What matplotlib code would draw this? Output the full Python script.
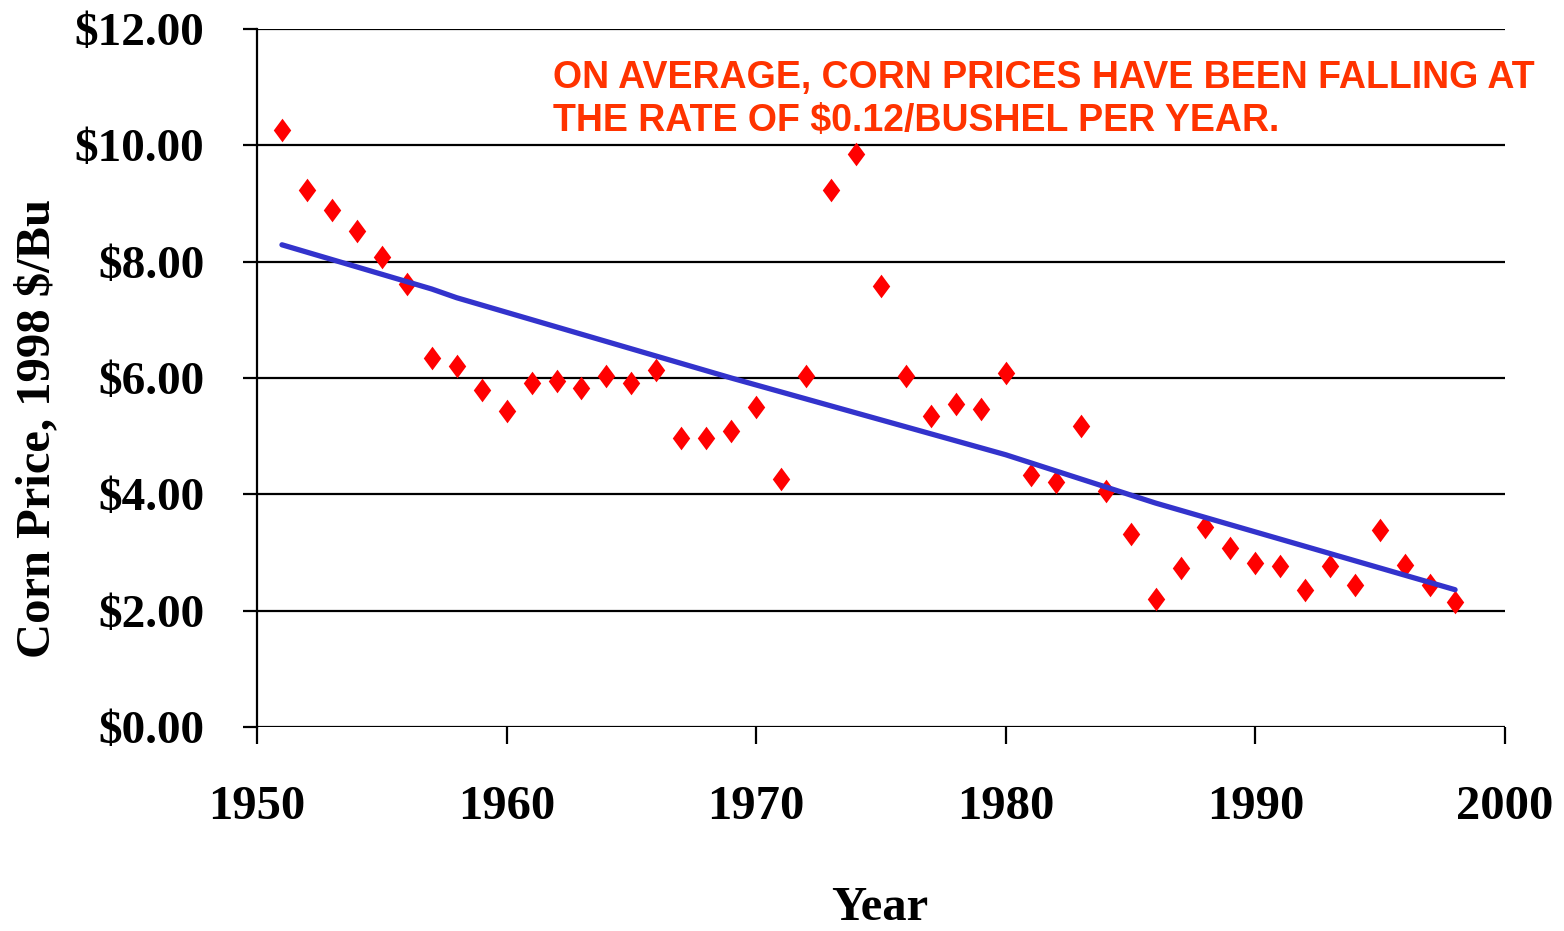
import matplotlib
matplotlib.use("Agg")
import matplotlib.pyplot as plt
from matplotlib.path import Path

years = list(range(1951, 1999))
prices = [10.26, 9.23, 8.89, 8.53, 8.08, 7.62, 6.34, 6.21, 5.79, 5.43,
          5.91, 5.95, 5.83, 6.03, 5.91, 6.14, 4.97, 4.97, 5.09, 5.50,
          4.26, 6.03, 9.23, 9.85, 7.58, 6.03, 5.35, 5.55, 5.47, 6.09,
          4.33, 4.21, 5.17, 4.06, 3.32, 2.20, 2.73, 3.44, 3.08, 2.82,
          2.77, 2.36, 2.77, 2.44, 3.39, 2.78, 2.44, 2.15]

trend_years = [1951, 1957, 1958, 1969, 1980, 1986, 1998]
trend_values = [8.29, 7.53, 7.38, 6.00, 4.68, 3.85, 2.36]

y_ticks = [0, 2, 4, 6, 8, 10, 12]
y_tick_labels = ["$0.00", "$2.00", "$4.00", "$6.00", "$8.00", "$10.00", "$12.00"]
x_ticks = [1950, 1960, 1970, 1980, 1990, 2000]
x_tick_labels = ["1950", "1960", "1970", "1980", "1990", "2000"]

annotation = "ON AVERAGE, CORN PRICES HAVE BEEN FALLING AT\nTHE RATE OF $0.12/BUSHEL PER YEAR."
y_label = "Corn Price, 1998 \\$/Bu"
x_label = "Year"

W, H = 1564, 931
fig = plt.figure(figsize=(W / 100, H / 100), dpi=100)
ax = fig.add_axes([257 / W, 1 - 727 / H, (1505 - 257) / W, (727 - 29) / H])

serif = {"family": "Liberation Serif", "weight": "bold"}

ax.set_xlim(1950, 2000)
ax.set_ylim(0, 12)

for t in y_ticks:
    ax.axhline(t, color="black", lw=1.6, zorder=1)

diamond = Path([(0, 1), (0.74, 0), (0, -1), (-0.74, 0), (0, 1)],
               [Path.MOVETO, Path.LINETO, Path.LINETO, Path.LINETO, Path.CLOSEPOLY])
ax.plot(years, prices, linestyle="none", marker=diamond, markersize=17,
        color="#FF0000", markeredgewidth=0, zorder=3)
ax.plot(trend_years, trend_values, color="#3333CC", lw=3.8,
        solid_capstyle="round", solid_joinstyle="round", zorder=4)

for s in ["top", "right", "bottom"]:
    ax.spines[s].set_visible(False)
ax.spines["left"].set_linewidth(1.6)
ax.spines["left"].set_zorder(2)

ax.set_yticks(y_ticks)
ax.set_yticklabels(y_tick_labels, fontdict=serif, fontsize=34)
ax.set_xticks(x_ticks)
ax.set_xticklabels(x_tick_labels, fontdict=serif, fontsize=35)
ax.tick_params(axis="y", direction="out", length=10, width=1.6, pad=28)
ax.tick_params(axis="x", direction="out", length=12, width=1.6, pad=30)

ax.set_ylabel(y_label, fontdict=serif, fontsize=35)
ax.yaxis.set_label_coords((37 - 257) / 1248, (727 - 428) / 698)
ax.yaxis.label.set_verticalalignment("center")
ax.set_xlabel(x_label, fontdict=serif, fontsize=35)
ax.xaxis.set_label_coords((880 - 257) / 1248, (727 - 908) / 698)
ax.xaxis.label.set_verticalalignment("center")

fig.text(553 / W, 1 - 60 / H, annotation, ha="left", va="top",
         color="#FF3300", fontsize=27, fontweight="bold",
         family="Liberation Sans", linespacing=1.26)

fig.savefig("out.png", dpi=100)
